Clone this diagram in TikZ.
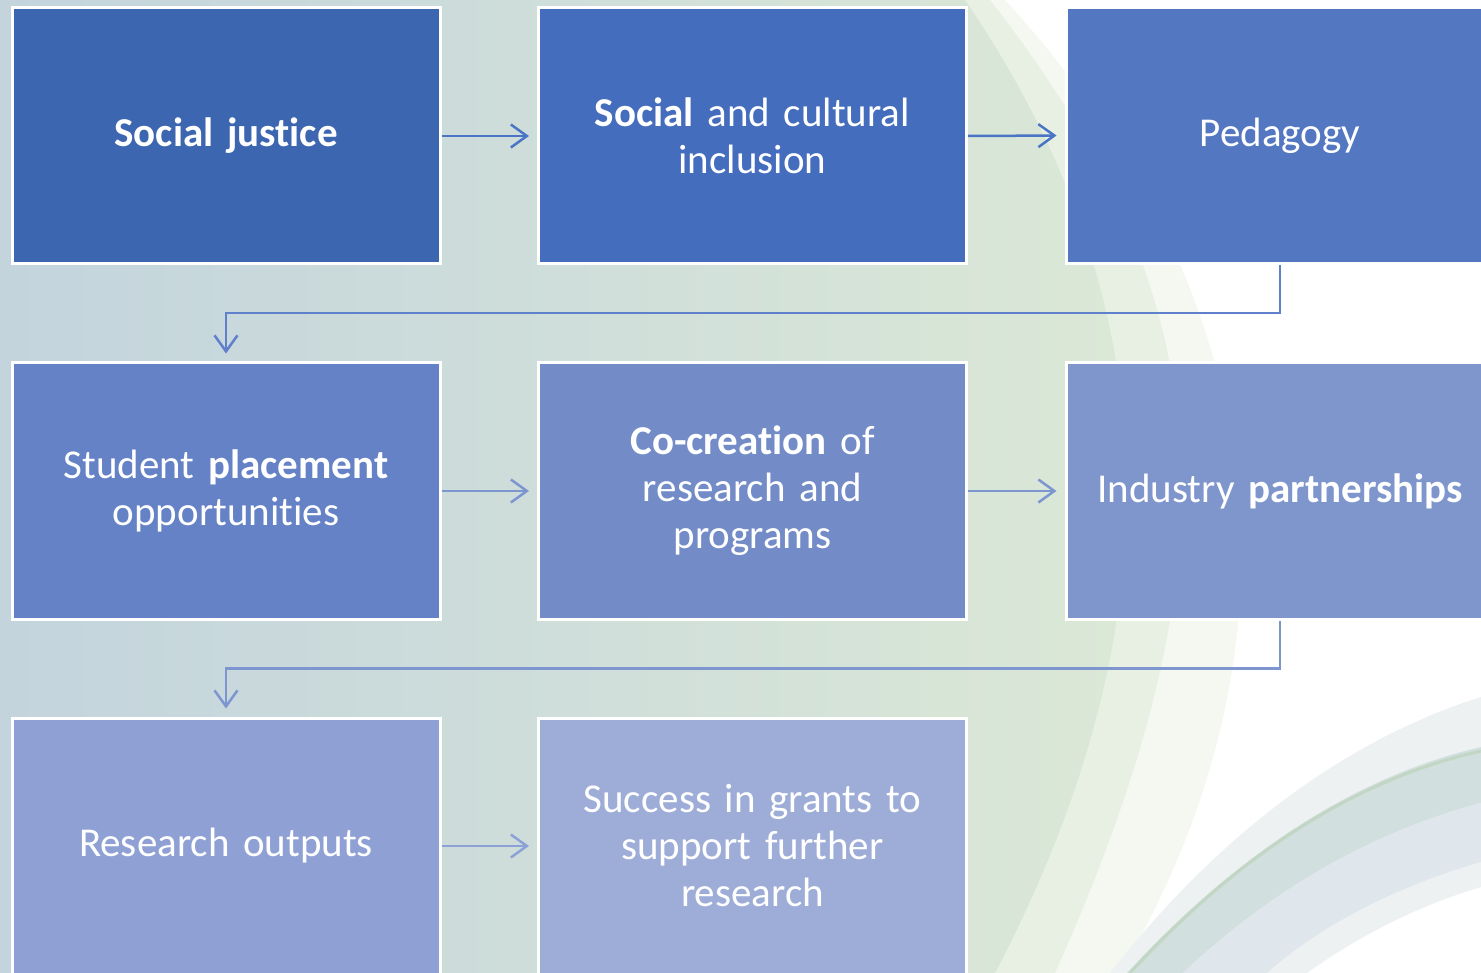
\documentclass[tikz,border=0pt]{standalone}
\usepackage{fontspec}
\setmainfont[Ligatures=NoCommon]{Carlito}
\usetikzlibrary{arrows.meta}
\definecolor{bA}{HTML}{3D66B1}
\definecolor{bB}{HTML}{456DBD}
\definecolor{bC}{HTML}{5477C1}
\definecolor{bD}{HTML}{6582C6}
\definecolor{bE}{HTML}{738CC8}
\definecolor{bF}{HTML}{7F96CD}
\definecolor{bG}{HTML}{8FA1D4}
\definecolor{bH}{HTML}{9EADD8}
\definecolor{aA}{HTML}{4A74C4}
\definecolor{aB}{HTML}{5F80CA}
\definecolor{aC}{HTML}{7E96D0}
\definecolor{aD}{HTML}{8CA2D6}
\definecolor{bgL}{HTML}{C3D4DD}
\definecolor{bgR}{HTML}{DCE9D6}
\definecolor{fA}{HTML}{F4F8F1}
\definecolor{fB}{HTML}{E8F0E3}
\definecolor{sA}{HTML}{EDF1F2}
\definecolor{sB}{HTML}{D1DFDE}
\definecolor{sC}{HTML}{E0E7EC}
\definecolor{sD}{HTML}{C2D6C4}
\tikzset{
  stepbox/.style={draw=white, line width=3pt, minimum width=428pt, minimum height=256pt,
    text width=415pt, align=center, text=white, inner sep=0pt,
    font=\fontsize{41}{47}\selectfont},
  conn/.style={line width=2.5pt, -{Straight Barb[length=16pt,width=23pt,line width=2.5pt]}}
}
\begin{document}
\begin{tikzpicture}[x=1pt,y=-1pt]
\useasboundingbox (0,0) rectangle (1481,973);
\clip (0,0) rectangle (1481,973);
% background
\fill[white] (0,0) rectangle (1481,973);
\fill[fA] (0,0) -- (1005,0) .. controls (1280,300) and (1310,650) .. (1120,973) -- (0,973) -- cycle;
\fill[fB] (0,0) -- (990,0) .. controls (1225,300) and (1240,560) .. (1055,973) -- (0,973) -- cycle;
\shade[left color=bgL, right color=bgR] (0,0) -- (965,0) .. controls (1170,300) and (1180,620) .. (995,973) -- (0,973) -- cycle;
% bottom-right swoosh
\fill[sA] (1110,973) .. controls (1230,820) and (1360,735) .. (1481,697) -- (1481,887) .. controls (1420,905) and (1360,935) .. (1307,973) -- cycle;
\fill[sB] (1127,973) .. controls (1240,850) and (1360,775) .. (1481,747) -- (1481,803) .. controls (1360,835) and (1260,900) .. (1183,973) -- cycle;
\fill[sC] (1183,973) .. controls (1260,900) and (1360,835) .. (1481,803) -- (1481,862) .. controls (1400,885) and (1320,925) .. (1267,973) -- cycle;
\draw[sD, line width=3pt] (1130,973) .. controls (1243,850) and (1360,778) .. (1481,751);
% boxes
\node[stepbox, fill=bA] (b1) at (226,136) {\textbf{Social justice}};
\node[stepbox, fill=bB] (b2) at (752.5,136) {\textbf{Social} and cultural\\inclusion};
\node[stepbox, fill=bC] (b3) at (1280,135.5) {Pedagogy};
\node[stepbox, fill=bD] (b4) at (226,491) {Student \textbf{placement}\\opportunities};
\node[stepbox, fill=bE] (b5) at (752.5,491) {\textbf{Co-creation} of\\research and\\programs};
\node[stepbox, fill=bF] (b6) at (1280,491) {Industry \textbf{partnerships}};
\node[stepbox, fill=bG] (b7) at (226,846) {Research outputs};
\node[stepbox, fill=bH] (b8) at (752.5,846) {Success in grants to\\support further\\research};
% connectors
\draw[conn, aA, shorten >=8pt] (b1.east) -- (b2.west);
\draw[conn, aA, shorten >=8pt] (b2.east) -- (b3.west);
\draw[conn, aB, shorten >=8pt] (b3.south) -- ++(0,48) -| (b4.north);
\draw[conn, aC, shorten >=8pt] (b4.east) -- (b5.west);
\draw[conn, aC, shorten >=8pt] (b5.east) -- (b6.west);
\draw[conn, aC, shorten >=8pt] (b6.south) -- ++(0,48) -| (b7.north);
\draw[conn, aD, shorten >=8pt] (b7.east) -- (b8.west);
\end{tikzpicture}
\end{document}
